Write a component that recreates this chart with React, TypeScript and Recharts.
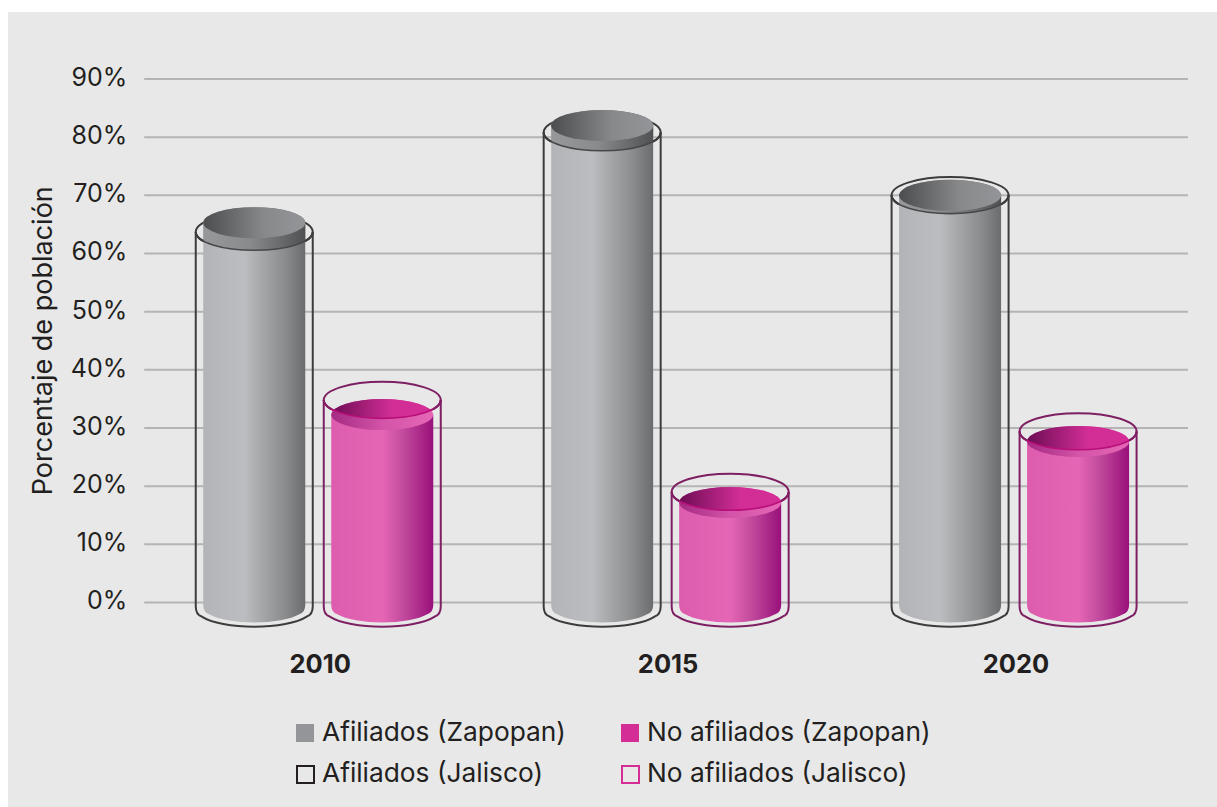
import React from "react";
import { BarChart, Bar, XAxis, YAxis, CartesianGrid, Legend, Label } from "recharts";

const years = ["2010", "2015", "2020"];
const afiliadosZapopan = [65.3, 82.0, 70.0];
const noAfiliadosZapopan = [32.3, 17.2, 27.7];
const afiliadosJalisco = [63.7, 80.8, 70.0];
const noAfiliadosJalisco = [34.8, 19.0, 29.4];
const yTicks = [0, 10, 20, 30, 40, 50, 60, 70, 80, 90];

const data = years.map((year, i) => ({
  year,
  afZ: afiliadosZapopan[i],
  noZ: noAfiliadosZapopan[i],
  afJ: afiliadosJalisco[i],
  noJ: noAfiliadosJalisco[i],
}));

const FONT = "Inter, sans-serif";
const TEXT = "#231f20";

const legendItems = [
  { name: "Afiliados (Zapopan)", color: "#939598", filled: true },
  { name: "No afiliados (Zapopan)", color: "#d42e96", filled: true },
  { name: "Afiliados (Jalisco)", color: "#231f20", filled: false },
  { name: "No afiliados (Jalisco)", color: "#d42e96", filled: false },
];

function Grad({ id, stops }: { id: string; stops: [number, string][] }) {
  return (
    <linearGradient id={id} x1="0" y1="0" x2="1" y2="0">
      {stops.map(([o, c]) => (
        <stop key={o} offset={o} stopColor={c} />
      ))}
    </linearGradient>
  );
}

// open outline of a cylinder's lower end, with small rounded corners
function lowerEnd(left: number, right: number, sideEnd: number, rx: number, ry: number) {
  const inset = 6;
  const drop = ry * Math.sqrt(1 - ((rx - inset) / rx) ** 2);
  return (
    `L${left},${sideEnd - 2} Q${left},${sideEnd + drop - 2} ${left + inset},${sideEnd + drop} ` +
    `A${rx},${ry} 0 0 0 ${right - inset},${sideEnd + drop} ` +
    `Q${right},${sideEnd + drop - 2} ${right},${sideEnd - 2}`
  );
}

// top of the cylinder is an ellipse centred on the value, base hangs a bit under zero
function Cylinder(props: any) {
  const { x, y, width, height, payload, index, outerKey, tone, valueKey } = props;
  const rx = width / 2;
  const ry = 15.5;
  const cx = x + rx;
  const base = y + height;
  const perUnit = height / payload[valueKey];
  const oy = base - payload[outerKey] * perUnit;
  const orx = rx + 7.5;
  const ory = 18.3;
  const clipId = `above-${tone}-${index}`;
  const body = `M${x},${y} ${lowerEnd(x, x + width, base + 4.5, rx, ry)} L${x + width},${y} Z`;
  const arc = `M${cx - orx},${oy} A${orx},${ory} 0 0 0 ${cx + orx},${oy}`;
  const arcStroke = tone === "grey" ? "#48484a" : "#b80f78";
  const stroke = tone === "grey" ? "#3c3c3d" : "#7d1f62";
  return (
    <g>
      <clipPath id={clipId}>
        <path d={`M${cx - orx},${Math.min(oy, y) - 40} L${cx + orx},${Math.min(oy, y) - 40} L${cx + orx},${oy} A${orx},${ory} 0 0 1 ${cx - orx},${oy} Z`} />
      </clipPath>
      <path d={body} fill={`url(#${tone}Body)`} />
      <path d={body} fill={`url(#${tone}Rim)`} clipPath={`url(#${clipId})`} />
      <ellipse cx={cx} cy={y} rx={rx} ry={ry} fill={`url(#${tone}Rim)`} />
      <ellipse cx={cx} cy={y} rx={rx} ry={ry} fill={`url(#${tone}Top)`} clipPath={`url(#${clipId})`} />
      <path d={arc} fill="none" stroke={arcStroke} strokeWidth={1.6} />
      <path d={`M${cx - orx},${oy} A${orx},${ory} 0 0 0 ${cx - rx},${oy + ory * 0.49}`} fill="none" stroke={stroke} strokeWidth={2} />
      <path d={`M${cx + rx},${oy + ory * 0.49} A${orx},${ory} 0 0 0 ${cx + orx},${oy}`} fill="none" stroke={stroke} strokeWidth={2} />
    </g>
  );
}

// the outlined glass around each cylinder
function Glass(props: any) {
  const { x, y, width, height, tone } = props;
  const rx = width / 2 + 7.5;
  const ry = 18.3;
  const cx = x + width / 2;
  const base = y + height;
  const stroke = tone === "grey" ? "#3c3c3d" : "#7d1f62";
  return (
    <g fill="none" stroke={stroke} strokeWidth={2}>
      <ellipse cx={cx} cy={y} rx={rx} ry={ry} />
      <path d={`M${cx - rx},${y} ${lowerEnd(cx - rx, cx + rx, base + 6, rx, ry)} L${cx + rx},${y}`} />
    </g>
  );
}

function LegendBox() {
  return (
    <div style={{ display: "grid", gridTemplateColumns: "325px 340px", gridAutoRows: "41.5px", fontFamily: FONT, fontSize: 26.3, color: TEXT }}>
      {legendItems.map((item) => (
        <div key={item.name} style={{ display: "flex", alignItems: "center", whiteSpace: "nowrap" }}>
          <span
            style={{
              width: item.filled ? 18 : 19,
              height: item.filled ? 18 : 19,
              boxSizing: "border-box",
              marginLeft: item.filled ? 0 : -0.5,
              marginRight: item.filled ? 8 : 7.5,
              background: item.filled ? item.color : "transparent",
              border: item.filled ? "none" : `2px solid ${item.color}`,
            }}
          />
          <span style={{ position: "relative", top: -1.5 }}>{item.name}</span>
        </div>
      ))}
    </div>
  );
}

export default function App() {
  return (
    <div style={{ position: "absolute", left: 8, top: 12, width: 1209, height: 795, background: "#e8e8e8" }}>
      <BarChart
        width={1209}
        height={795}
        data={data}
        margin={{ top: 67, right: 29, bottom: 144.5, left: 16.25 }}
        barSize={102}
        barGap={26}
      >
        <defs>
          <Grad id="greyBody" stops={[[0, "#b3b4b7"], [0.4, "#bcbdc0"], [0.55, "#a9aaac"], [0.8, "#8b8c8e"], [1, "#6b6c6e"]]} />
          <Grad id="greyRim" stops={[[0, "#97989a"], [0.45, "#8a8b8d"], [1, "#505152"]]} />
          <Grad id="greyTop" stops={[[0, "#4c4d4f"], [0.6, "#88898b"], [1, "#939598"]]} />
          <Grad id="pinkBody" stops={[[0, "#dd5cad"], [0.5, "#e666b6"], [0.7, "#c34c9e"], [1, "#99107a"]]} />
          <Grad id="pinkRim" stops={[[0, "#a42a82"], [0.5, "#d354a8"], [1, "#e666b6"]]} />
          <Grad id="pinkTop" stops={[[0, "#6d0c55"], [0.6, "#d22e95"], [1, "#d42e96"]]} />
        </defs>
        <CartesianGrid xAxisId="zap" horizontal vertical={false} stroke="#b4b4b4" strokeWidth={2} />
        <XAxis
          xAxisId="zap"
          dataKey="year"
          height={60}
          axisLine={false}
          tickLine={false}
          tickMargin={16}
          tick={{ fontFamily: FONT, fontSize: 25.5, fontWeight: 700, fill: TEXT, dx: 2 }}
        />
        <XAxis xAxisId="jal" dataKey="year" hide />
        <YAxis
          domain={[0, 90]}
          ticks={yTicks}
          width={120}
          interval={0}
          axisLine={false}
          tickLine={false}
          tickSize={0}
          tickMargin={17}
          tickFormatter={(v: number) => `${v}%`}
          tick={{ fontFamily: FONT, fontSize: 25, fill: TEXT, dy: -2 }}
        >
          <Label
            value="Porcentaje de población"
            angle={-90}
            position="insideLeft"
            offset={18}
            style={{ fontFamily: FONT, fontSize: 27, fill: TEXT, textAnchor: "middle" }}
          />
        </YAxis>
        <Bar xAxisId="jal" dataKey="afJ" name="Afiliados (Jalisco)" isAnimationActive={false} fill="none"
          shape={(p: any) => <Glass {...p} tone="grey" />} />
        <Bar xAxisId="jal" dataKey="noJ" name="No afiliados (Jalisco)" isAnimationActive={false} fill="none"
          shape={(p: any) => <Glass {...p} tone="pink" />} />
        <Bar xAxisId="zap" dataKey="afZ" name="Afiliados (Zapopan)" isAnimationActive={false} fill="#939598"
          shape={(p: any) => <Cylinder {...p} tone="grey" valueKey="afZ" outerKey="afJ" />} />
        <Bar xAxisId="zap" dataKey="noZ" name="No afiliados (Zapopan)" isAnimationActive={false} fill="#d42e96"
          shape={(p: any) => <Cylinder {...p} tone="pink" valueKey="noZ" outerKey="noJ" />} />
        <Legend
          layout="horizontal"
          verticalAlign="middle"
          align="center"
          wrapperStyle={{ left: 288, top: 700, width: 680, margin: 0 }}
          content={() => <LegendBox />}
        />
      </BarChart>
    </div>
  );
}
